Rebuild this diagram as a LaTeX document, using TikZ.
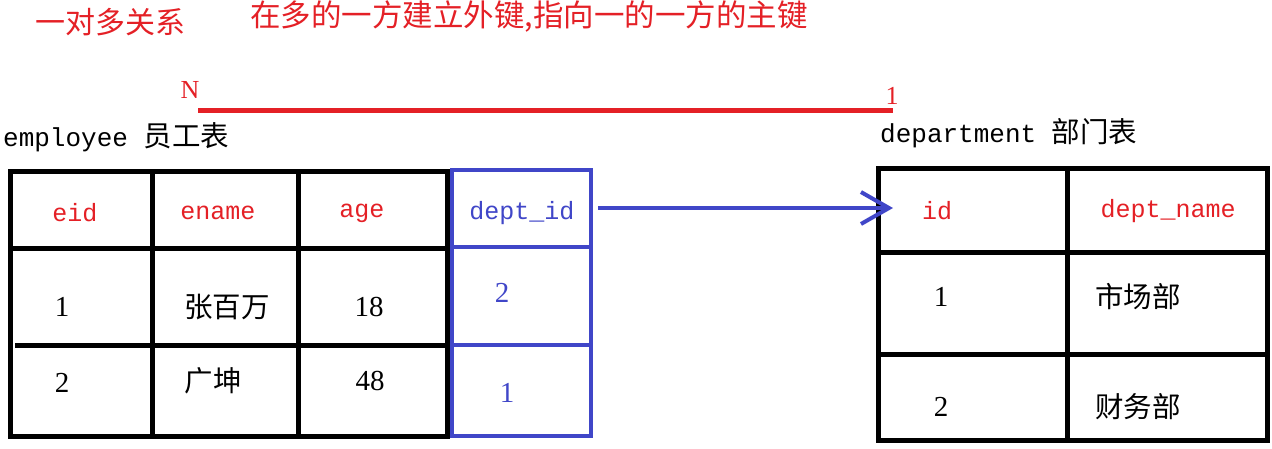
\documentclass[tikz,border=0pt]{standalone}
\usepackage{fontspec}
\setmainfont{Liberation Serif}
\newfontfamily\cjk{Noto Sans CJK SC}
\newfontfamily\mono{Liberation Mono}
\usetikzlibrary{arrows.meta}
\definecolor{myred}{RGB}{228,32,38}
\definecolor{myblue}{RGB}{64,70,200}
\tikzset{
  txt/.style={inner sep=0pt, anchor=center},
  hdr/.style={txt, font=\mono\fontsize{25}{28}\selectfont},
  num/.style={txt, font=\fontsize{29}{32}\selectfont},
  cn/.style={txt, font=\cjk\fontsize{28.5}{31}\selectfont},
  tbl/.style={line width=5pt, black},
  btbl/.style={line width=4pt, myblue},
}
\begin{document}
\begin{tikzpicture}[x=1pt,y=-1pt]
\useasboundingbox (0,0) rectangle (1272,448);
% titles
\node[txt, anchor=west, text=myred, font=\cjk\fontsize{30}{33}\selectfont] (title1) at (35,22) {一对多关系};
\node[txt, anchor=west, text=myred, font=\cjk\fontsize{30.5}{33}\selectfont] (title2) at (250,16) {在多的一方建立外键,指向一的一方的主键};
% relation line
\node[txt, text=myred, font=\fontsize{26}{28}\selectfont] (nlab) at (190,90) {N};
\node[txt, text=myred, font=\fontsize{26}{28}\selectfont] (onelab) at (892,96) {1};
\coordinate (rl1) at (198,110);
\coordinate (rl2) at (893,110);
\draw[myred, line width=5pt] (rl1) -- (rl2);
% table captions
\node[txt, anchor=west] (empcap) at (3,137) {{\mono\fontsize{26}{28}\selectfont employee\ }{\cjk\fontsize{28.5}{30}\selectfont 员工表}};
\node[txt, anchor=west] (depcap) at (880,133) {{\mono\fontsize{26}{28}\selectfont department\ }{\cjk\fontsize{28.5}{30}\selectfont 部门表}};
% employee table
\draw[tbl] (10,171) rectangle (447,436);
\draw[tbl] (152,171) -- (152,436);
\draw[tbl] (298,171) -- (298,436);
\draw[tbl] (10,248) -- (447,248);
\draw[tbl] (15,345) -- (447,345);
% blue column
\draw[btbl] (452,170) rectangle (591,436);
\draw[btbl] (452,247) -- (593,247);
\draw[btbl] (452,345) -- (591,345);
% employee cells
\node[hdr, text=myred] (eid) at (75,213) {eid};
\node[hdr, text=myred] (ename) at (218,213) {ename};
\node[hdr, text=myred] (age) at (362,213) {age};
\node[hdr, text=myblue] (deptid) at (522,213) {dept\_id};
\node[num] (e1) at (62,307) {1};
\node[cn] (n1) at (227,307) {张百万};
\node[num] (a1) at (369,307) {18};
\node[num, text=myblue] (d1) at (502,293) {2};
\node[num] (e2) at (62,383) {2};
\node[cn] (n2) at (213,381) {广坤};
\node[num] (a2) at (370,381) {48};
\node[num, text=myblue] (d2) at (507,393) {1};
% department table
\draw[tbl] (878,168) rectangle (1267,440);
\draw[tbl] (1067,168) -- (1067,440);
\draw[tbl] (878,252) -- (1270,252);
\draw[tbl] (878,354) -- (1267,354);
\node[hdr, text=myred] (id) at (937,211) {id};
\node[hdr, text=myred] (dname) at (1168,211) {dept\_name};
\node[num] (i1) at (941,297) {1};
\node[cn] (m1) at (1138,297) {市场部};
\node[num] (i2) at (941,407) {2};
\node[cn] (m2) at (1138,407) {财务部};
% foreign key arrow
\coordinate (fkstart) at (598,208);
\coordinate (fkend) at (893,208);
\draw[myblue, line width=4pt, -{Straight Barb[length=28pt,width=32pt,line width=4pt]}] (fkstart) -- (fkend);
\end{tikzpicture}
\end{document}
